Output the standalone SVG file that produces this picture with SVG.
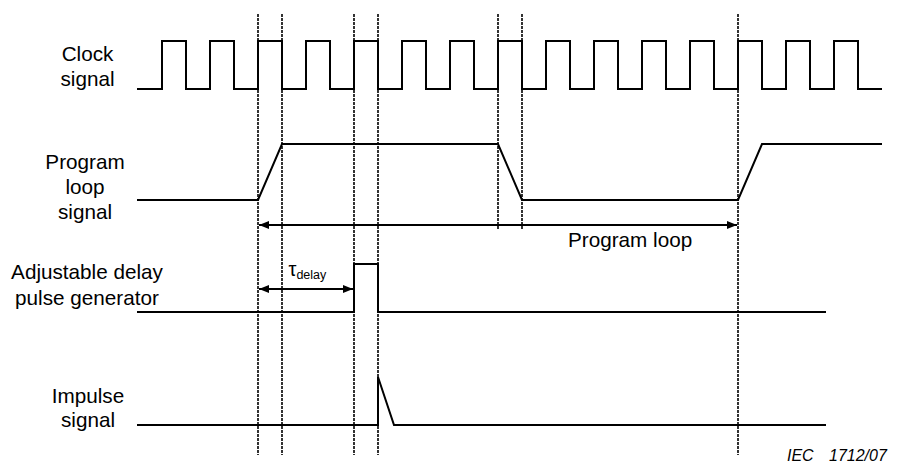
<svg xmlns="http://www.w3.org/2000/svg" width="899" height="464" viewBox="0 0 899 464">
<style>
.sig{fill:none;stroke:#000;stroke-width:2;stroke-linejoin:miter}
.guide{fill:none;stroke:#000;stroke-width:1.6;stroke-dasharray:3 1}
.dim{fill:none;stroke:#000;stroke-width:2}
.lbl{font-family:"Liberation Sans",Arial,sans-serif;font-size:20.7px;fill:#000;text-anchor:middle}
.txt{font-family:"Liberation Sans",Arial,sans-serif;fill:#000}
</style>
<defs>
<marker id="ah" viewBox="0 0 10 8" refX="10" refY="4" markerWidth="10" markerHeight="8" markerUnits="userSpaceOnUse" orient="auto-start-reverse">
<path d="M0,0 L10,4 L0,8 Z" fill="#000"/>
</marker>
</defs>
<rect width="899" height="464" fill="#fff"/>
<g id="guides">
<line class="guide" x1="258" y1="14" x2="258" y2="455"/>
<line class="guide" x1="282" y1="14" x2="282" y2="455"/>
<line class="guide" x1="354" y1="14" x2="354" y2="455"/>
<line class="guide" x1="378" y1="14" x2="378" y2="455"/>
<line class="guide" x1="498" y1="14" x2="498" y2="229"/>
<line class="guide" x1="522" y1="14" x2="522" y2="229"/>
<line class="guide" x1="738" y1="14" x2="738" y2="455"/>
</g>
<g id="clock">
<text class="lbl" x="87.5" y="61">Clock</text>
<text class="lbl" x="87.5" y="86">signal</text>
<path class="sig" d="M137,89 H162 V41 H186 V89 H210 V41 H234 V89 H258 V41 H282 V89 H306 V41 H330 V89 H354 V41 H378 V89 H402 V41 H426 V89 H450 V41 H474 V89 H498 V41 H522 V89 H546 V41 H570 V89 H594 V41 H618 V89 H642 V41 H666 V89 H690 V41 H714 V89 H738 V41 H762 V89 H786 V41 H810 V89 H834 V41 H858 V89 H882"/>
</g>
<g id="program-loop">
<text class="lbl" x="85" y="169">Program</text>
<text class="lbl" x="85" y="194">loop</text>
<text class="lbl" x="85" y="218.5">signal</text>
<path class="sig" d="M137,200 H258 L282,144 H498 L522,200 H738 L762,144 H882"/>
</g>
<g id="pulse-generator">
<text class="lbl" x="87" y="279">Adjustable delay</text>
<text class="lbl" x="87" y="305">pulse generator</text>
<path class="sig" d="M137,312 H354 V264 H378 V312 H826"/>
</g>
<g id="impulse">
<text class="lbl" x="88" y="402.5">Impulse</text>
<text class="lbl" x="88" y="427">signal</text>
<path class="sig" d="M137,425 H378 V377 L394,425 H826"/>
</g>
<g id="connectors">
<line class="dim" x1="259" y1="225" x2="737" y2="225" marker-start="url(#ah)" marker-end="url(#ah)"/>
<line class="dim" x1="259" y1="289" x2="353" y2="289" marker-start="url(#ah)" marker-end="url(#ah)"/>
</g>
<g id="labels">
<text class="txt" x="568" y="246.5" font-size="20.7">Program loop</text>
<text class="txt" x="288.5" y="276" font-size="20">τ<tspan font-size="12.5" dy="3">delay</tspan></text>
<text class="txt" y="461" font-size="16" font-style="italic"><tspan x="787">IEC</tspan><tspan x="829">1712/07</tspan></text>
</g>
</svg>
